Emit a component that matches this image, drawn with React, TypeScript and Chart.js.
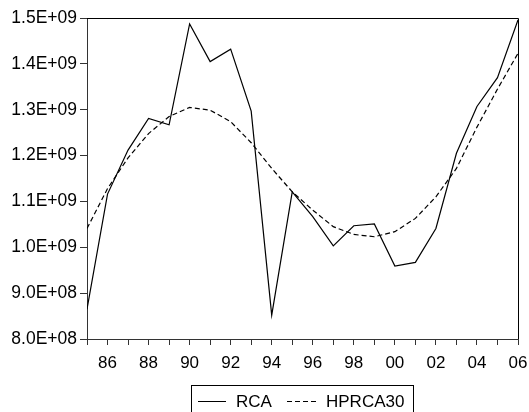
import React, { useEffect, useRef } from "react";
import { Chart, registerables } from "chart.js";

Chart.register(...registerables);

const years = [1985, 1986, 1987, 1988, 1989, 1990, 1991, 1992, 1993, 1994, 1995, 1996, 1997, 1998, 1999, 2000, 2001, 2002, 2003, 2004, 2005, 2006];
const rca = [8.65e8, 1.116e9, 1.212e9, 1.281e9, 1.267e9, 1.487e9, 1.405e9, 1.432e9, 1.297e9, 8.52e8, 1.121e9, 1.067e9, 1.003e9, 1.047e9, 1.051e9, 9.59e8, 9.67e8, 1.041e9, 1.205e9, 1.307e9, 1.37e9, 1.496e9];
const hprca30 = [1.041e9, 1.128e9, 1.195e9, 1.248e9, 1.285e9, 1.305e9, 1.299e9, 1.274e9, 1.228e9, 1.172e9, 1.121e9, 1.081e9, 1.045e9, 1.028e9, 1.023e9, 1.034e9, 1.063e9, 1.11e9, 1.172e9, 1.262e9, 1.345e9, 1.423e9];
const yTicks = [8.0e8, 9.0e8, 1.0e9, 1.1e9, 1.2e9, 1.3e9, 1.4e9, 1.5e9];
const seriesNames = ["RCA", "HPRCA30"];

const FONT = "Arial, 'Liberation Sans', sans-serif";

function fmtSci(v: number): string {
  const exp = Math.floor(Math.log10(v) + 1e-9);
  const mant = v / Math.pow(10, exp);
  return mant.toFixed(1) + "E+" + String(exp).padStart(2, "0");
}

const framePlugin = {
  id: "frame",
  afterDraw(chart: any) {
    const { ctx, chartArea } = chart;
    ctx.save();
    ctx.strokeStyle = "#000";
    ctx.lineWidth = 1;
    ctx.beginPath();
    ctx.moveTo(chartArea.left, chartArea.top + 0.5);
    ctx.lineTo(chartArea.right + 0.5, chartArea.top + 0.5);
    ctx.lineTo(chartArea.right + 0.5, chartArea.bottom);
    ctx.stroke();

    // legend box
    const bx = 191.5, by = 385.5, bw = 222, bh = 40;
    ctx.strokeStyle = "#000";
    ctx.strokeRect(bx, by, bw, bh);
    const ly = 401.5;
    ctx.beginPath();
    ctx.setLineDash([]);
    ctx.moveTo(198, ly);
    ctx.lineTo(226, ly);
    ctx.stroke();
    ctx.beginPath();
    ctx.setLineDash([5, 3]);
    ctx.moveTo(287, ly);
    ctx.lineTo(317, ly);
    ctx.stroke();
    ctx.setLineDash([]);
    ctx.fillStyle = "#000";
    ctx.font = "17px " + FONT;
    ctx.textBaseline = "alphabetic";
    ctx.textAlign = "left";
    ctx.fillText(seriesNames[0], 236, 407);
    ctx.fillText(seriesNames[1], 326, 407);
    ctx.restore();
  },
};

export default function App() {
  const ref = useRef<HTMLCanvasElement>(null);
  useEffect(() => {
    document.body.style.margin = "0";
    const chart = new Chart(ref.current!, {
      type: "line",
      data: {
        labels: years,
        datasets: [
          {
            label: seriesNames[0],
            data: years.map((y, i) => ({ x: y, y: rca[i] })),
            borderColor: "#000",
            borderWidth: 1.2,
            pointRadius: 0,
            tension: 0,
          },
          {
            label: seriesNames[1],
            data: years.map((y, i) => ({ x: y, y: hprca30[i] })),
            borderColor: "#000",
            borderWidth: 1.2,
            borderDash: [5, 3],
            pointRadius: 0,
            tension: 0,
          },
        ],
      },
      options: {
        animation: false,
        responsive: false,
        layout: { padding: { top: 18, right: 11, left: 0, bottom: 0 } },
        plugins: { legend: { display: false }, tooltip: { enabled: false } },
        scales: {
          x: {
            type: "linear",
            min: 1985,
            max: 2006,
            afterFit: (s: any) => { s.height = 73; s.paddingLeft = 0; s.paddingRight = 0; },
            afterBuildTicks: (s: any) => {
              s.ticks = years.map((y) => ({ value: y }));
            },
            ticks: {
              autoSkip: false,
              maxRotation: 0,
              padding: 8,
              color: "#000",
              font: { family: FONT, size: 17 },
              callback: (v: any) => (Number(v) % 2 === 0 ? String(Number(v) % 100).padStart(2, "0") : ""),
            },
            grid: { drawOnChartArea: false, drawTicks: true, tickLength: 6, color: "#333" },
            border: { display: true, color: "#333", width: 1 },
          },
          y: {
            min: 8e8,
            max: 1.5e9,
            afterFit: (s: any) => { s.width = 87; s.paddingTop = 0; s.paddingBottom = 0; },
            afterBuildTicks: (s: any) => {
              s.ticks = yTicks.map((v) => ({ value: v }));
            },
            ticks: {
              padding: 3,
              color: "#000",
              font: { family: FONT, size: 17.5 },
              callback: (v: any) => fmtSci(Number(v)),
            },
            grid: { drawOnChartArea: false, drawTicks: true, tickLength: 7, color: "#333" },
            border: { display: true, color: "#333", width: 1 },
          },
        },
      },
      plugins: [framePlugin],
    });
    return () => chart.destroy();
  }, []);
  return (
    <div style={{ width: 529, height: 412 }}>
      <canvas ref={ref} width={529} height={412} style={{ display: "block" }} />
    </div>
  );
}
